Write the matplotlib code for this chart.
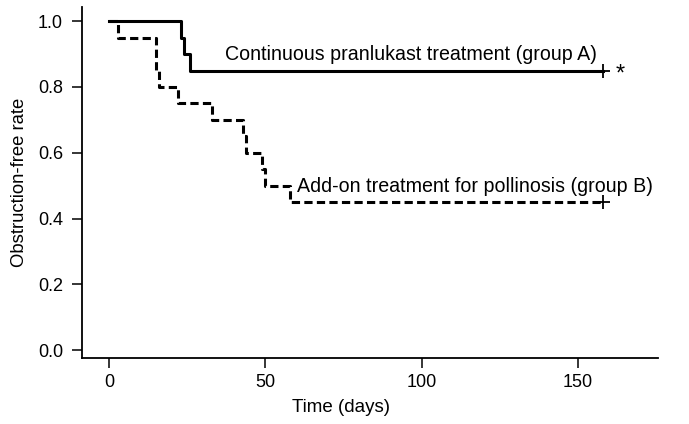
import matplotlib
matplotlib.use("Agg")
import matplotlib.pyplot as plt

# Kaplan-Meier style obstruction-free curves
days_a = [0, 23, 24, 26, 158]
rate_a = [1.0, 0.95, 0.90, 0.85, 0.85]

days_b = [0, 3, 15, 16, 22, 33, 43, 44, 49, 50, 58, 158]
rate_b = [1.0, 0.95, 0.85, 0.80, 0.75, 0.70, 0.65, 0.60, 0.55, 0.50, 0.45, 0.45]

label_a = "Continuous pranlukast treatment (group A)"
label_b = "Add-on treatment for pollinosis (group B)"

x_ticks = [0, 50, 100, 150]
y_ticks = [0.0, 0.2, 0.4, 0.6, 0.8, 1.0]

plt.rcParams['font.family'] = ['Liberation Sans', 'DejaVu Sans']

fig = plt.figure(figsize=(6.89, 4.24), dpi=100)
ax = fig.add_axes([0.1195, 0.1564, 0.8355, 0.827])

ax.plot(days_a, rate_a, drawstyle='steps-post', color='black', lw=2.2)
ax.plot(days_b, rate_b, drawstyle='steps-post', color='black', lw=2.2,
        linestyle=(0, (2.7, 1.4)))

# censor marks at end of follow-up
ax.plot(days_a[-1], rate_a[-1], marker='+', color='black', ms=10, mew=1.3)
ax.plot(days_b[-1], rate_b[-1], marker='+', color='black', ms=10, mew=1.3)

ax.text(37, 0.90, label_a, fontsize=14.1, va='center', ha='left')
ax.text(60, 0.497, label_b, fontsize=14.1, va='center', ha='left')
ax.text(163.5, 0.838, "*", fontsize=17, va='center', ha='center')

ax.set_xlim(-8.5, 175.6)
ax.set_ylim(-0.023, 1.043)
ax.set_xticks(x_ticks)
ax.set_yticks(y_ticks)
ax.set_yticklabels([f"{v:.1f}" for v in y_ticks])
ax.tick_params(axis='both', labelsize=13, width=1.1, length=7)
ax.tick_params(axis='x', pad=5)
ax.tick_params(axis='y', pad=7)

for side in ['top', 'right']:
    ax.spines[side].set_visible(False)
for side in ['left', 'bottom']:
    ax.spines[side].set_linewidth(1.3)

ax.set_xlabel("Time (days)", fontsize=13.5)
ax.xaxis.set_label_coords(0.449, -0.118)
ax.set_ylabel("Obstruction-free rate", fontsize=13.3, labelpad=7)

fig.savefig("out.png", dpi=100)
